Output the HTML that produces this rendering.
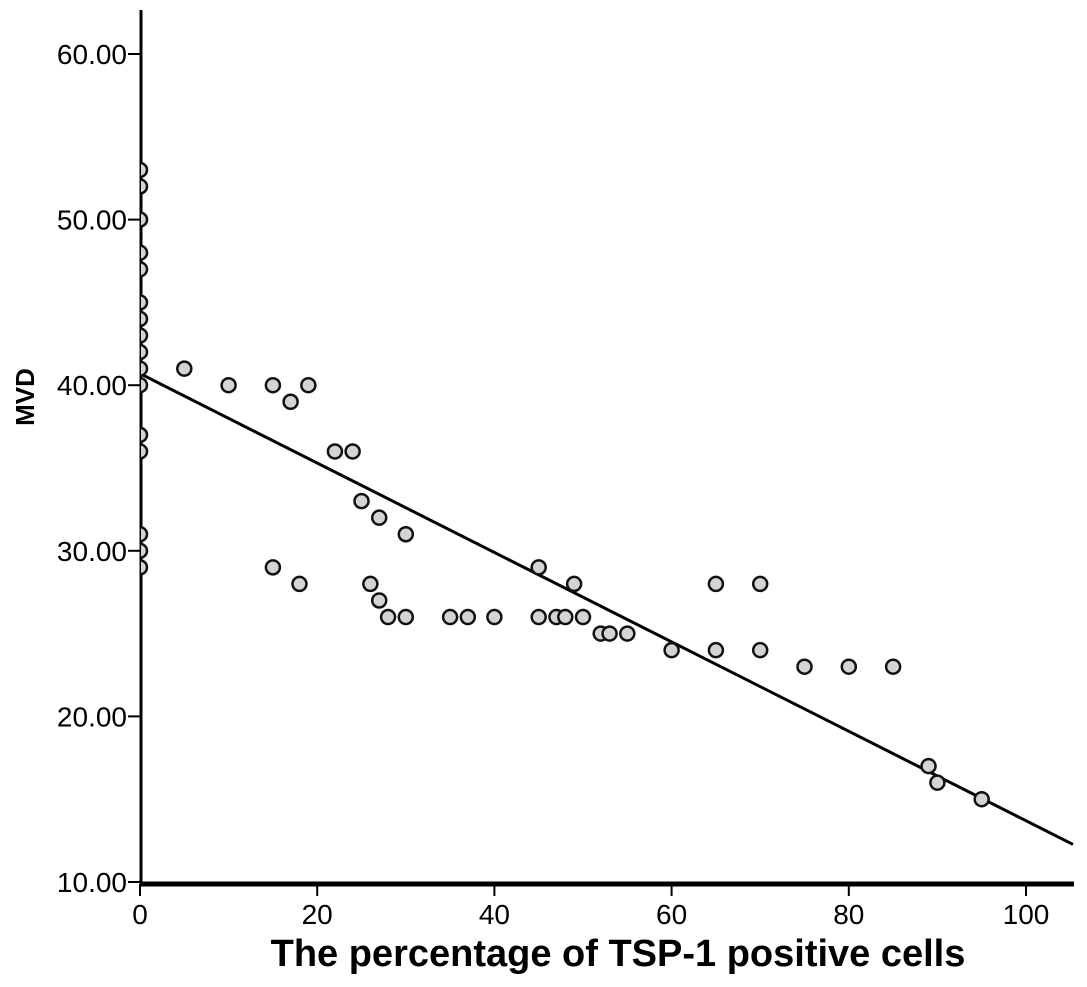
<!DOCTYPE html>
<html><head><meta charset="utf-8"><style>
html,body{margin:0;padding:0;background:#fff;}
svg{display:block;font-family:"Liberation Sans",Arial,sans-serif;}
</style></head><body>
<svg id="chart" width="1087" height="987" viewBox="0 0 1087 987">
<defs><clipPath id="plotclip"><rect x="141" y="0" width="946" height="884"/></clipPath></defs>
<g id="axes"></g>
<g id="marks" clip-path="url(#plotclip)"></g>
<text x="618" y="966" text-anchor="middle" font-size="38" font-weight="bold">The percentage of TSP-1 positive cells</text>
<text transform="translate(34,397) rotate(-90)" text-anchor="middle" font-size="26" font-weight="bold">MVD</text>
</svg>
<script>
const xVals=[0,0,0,0,0,0,0,0,0,0,0,0,0,0,0,0,5,10,15,17,19,22,24,25,27,30,15,18,26,27,28,30,35,37,40,45,45,47,48,49,50,52,53,55,60,65,65,70,70,75,80,85,89,90,95];
const yVals=[53,52,50,48,47,45,44,43,42,41,40,37,36,31,30,29,41,40,40,39,40,36,36,33,32,31,29,28,28,27,26,26,26,26,26,29,26,26,26,28,26,25,25,25,24,28,24,28,24,23,23,23,17,16,15];
const xTicks=[0,20,40,60,80,100];
const yTicks=[10,20,30,40,50,60];
const yTickLabels=["10.00","20.00","30.00","40.00","50.00","60.00"];
const fitIntercept=40.7;
const fitSlope=-0.27;
const NS="http://www.w3.org/2000/svg";
const sx=v=>140+v*8.86;
const sy=v=>54+(60-v)*16.56;
function mk(tag,attrs,parent){const e=document.createElementNS(NS,tag);for(const k in attrs)e.setAttribute(k,attrs[k]);parent.appendChild(e);return e;}
const axes=document.getElementById('axes'),marks=document.getElementById('marks');
let l=mk('line',{x1:141,y1:10,x2:141,y2:884,stroke:'#000','stroke-width':3},axes);


l=mk('line',{x1:140,y1:884,x2:1074,y2:884,stroke:'#000','stroke-width':5},axes);


yTicks.forEach((t,i)=>{
  const y=sy(t);
  const tk=mk('line',{x1:128,y1:y,x2:141,y2:y,stroke:'#000','stroke-width':2},axes);
  
  
  const tx=mk('text',{x:127,y:y+10,'text-anchor':'end','font-size':28},axes);
  tx.textContent=yTickLabels[i];
  
  
});
xTicks.forEach(t=>{
  const x=sx(t);
  const tk=mk('line',{x1:x,y1:884,x2:x,y2:896,stroke:'#000','stroke-width':2},axes);
  
  
  const tx=mk('text',{x:x,y:924,'text-anchor':'middle','font-size':28},axes);
  tx.textContent=String(t);
  
  
});
const xEnd=(1073-140)/8.86;
const fit=mk('line',{x1:sx(0),y1:sy(fitIntercept),x2:sx(xEnd),y2:sy(fitIntercept+fitSlope*xEnd),stroke:'#000','stroke-width':3},marks);


xVals.forEach((xv,i)=>{
  const c=mk('circle',{cx:sx(xv),cy:sy(yVals[i]),r:7,fill:'#d4d4d4',stroke:'#111','stroke-width':2.5},marks);
  
  
});
</script>
</body></html>
